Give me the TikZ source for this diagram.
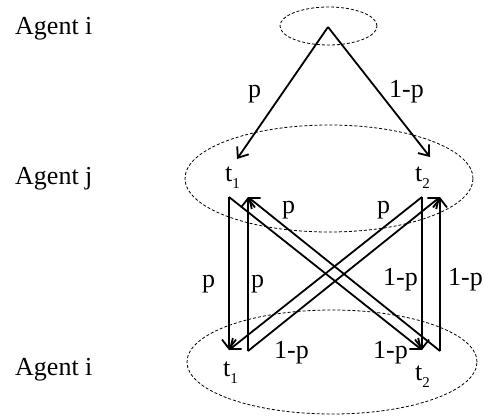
\documentclass[tikz,border=0pt]{standalone}
\usepackage{fontspec}
\setmainfont{Liberation Serif}
\usetikzlibrary{arrows.meta,shapes.geometric}
\newcommand{\sbt}[1]{t\raisebox{-0.3em}{\fontsize{15}{15}\selectfont #1}}
\begin{document}
\begin{tikzpicture}[x=1pt,y=-1pt,
  every node/.style={font=\fontsize{26}{30}\selectfont, inner sep=0pt},
  lab/.style={anchor=base west},
  group/.style={draw, ellipse, dash pattern=on 3pt off 2pt, line width=0.8pt, inner sep=0pt},
  arr/.style={line width=1.8pt, -{Straight Barb[length=9pt,width=14pt,line width=1.8pt]}},
  ln/.style={line width=1.8pt}]
\useasboundingbox (0,0) rectangle (484,415);
% group ellipses
\node[group, minimum width=97pt, minimum height=38pt] (E0) at (328.5,26) {};
\node[group, minimum width=288pt, minimum height=107pt] (E1) at (329,178.5) {};
\node[group, minimum width=290pt, minimum height=104pt] (E2) at (332,362) {};
% agent labels
\node[lab] (A1) at (15,34) {Agent i};
\node[lab] (A2) at (15,184) {Agent j};
\node[lab] (A3) at (15,375) {Agent i};
% points
\coordinate (root) at (328,27);
\coordinate (ja) at (237,159);
\coordinate (jb) at (430,157);
\coordinate (TL1) at (229,197);
\coordinate (TL2) at (248,197);
\coordinate (TR1) at (422,197);
\coordinate (TR2) at (440,197);
\coordinate (BL1) at (229,350);
\coordinate (BL2) at (248,351);
\coordinate (BR1) at (422,350);
\coordinate (BR2) at (440,351);
% type labels
\node[lab] (t1) at (225,181) {\sbt{1}};
\node[lab] (t2) at (415,181) {\sbt{2}};
\node[lab] (b1) at (223,376) {\sbt{1}};
\node[lab] (b2) at (415,380) {\sbt{2}};
% arrows
\draw[arr] (root) -- (ja);
\draw[arr] (root) -- (jb);
\draw[arr] (TL1) -- (BL1);
\draw[arr] (BL2) -- (TL2);
\draw[arr] (TR1) -- (BR1);
\draw[arr] (BR2) -- (TR2);
\draw[arr] (TL1) -- (BR1);
\draw[arr] (BR2) -- (TL2);
\draw[arr] (TR1) -- (BL1);
\draw[arr] (BL2) -- (TR2);
% probability labels
\node[lab] (p1) at (248,97) {p};
\node[lab] (p2) at (389,97) {1-p};
\node[lab] (p3) at (282,213) {p};
\node[lab] (p4) at (377,213) {p};
\node[lab] (p5) at (202,287) {p};
\node[lab] (p6) at (251,287) {p};
\node[lab] (p7) at (383,285) {1-p};
\node[lab] (p8) at (448,285) {1-p};
\node[lab] (p9) at (274,358) {1-p};
\node[lab] (p10) at (373,358) {1-p};
\end{tikzpicture}
\end{document}
